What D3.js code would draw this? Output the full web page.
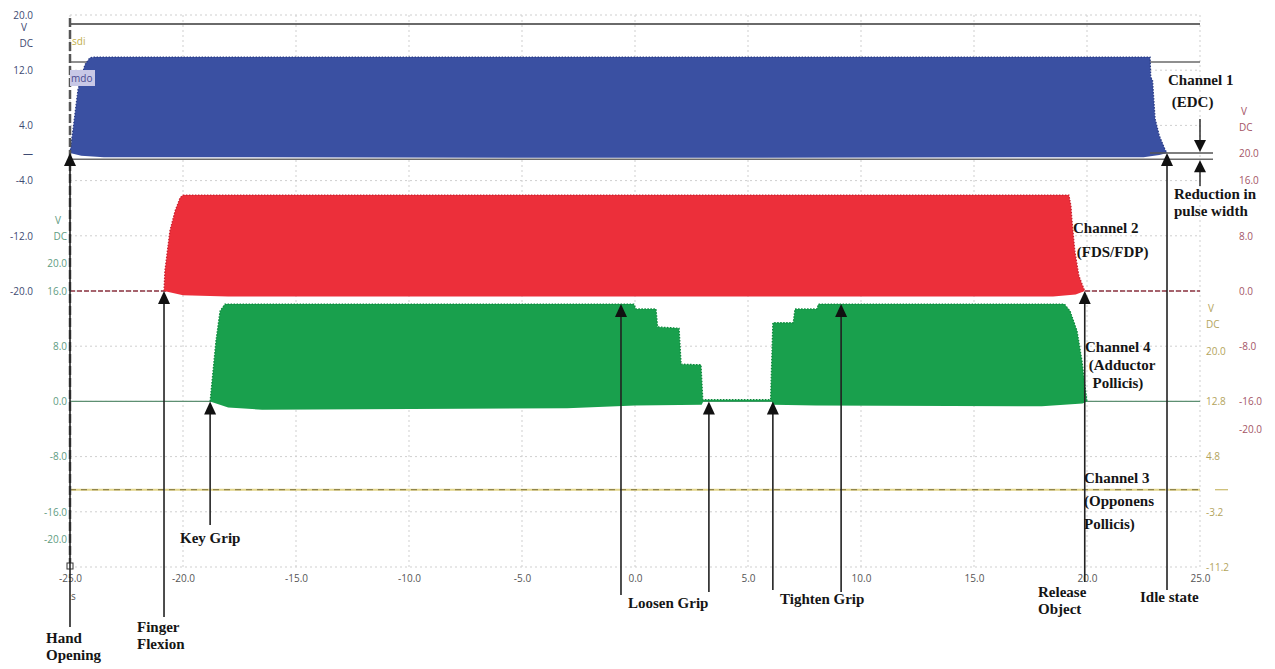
<!DOCTYPE html>
<meta charset="utf-8">
<title>EMG-triggered stimulation channels</title>
<style>
    body {
        margin: 0;
        background: #fff;
        width: 1275px;
        height: 669px;
        overflow: hidden;
    }

    svg {
        display: block;
    }

    .tick-lbl {
        font-family: "Open Sans", sans-serif;
        font-size: 10px;
    }

    .note {
        font-family: "Liberation Serif", "Times New Roman", serif;
        font-weight: bold;
        font-size: 15px;
        fill: #151515;
    }
</style>

<body>
    <svg width="1275" height="669"></svg>

    <script src="https://d3js.org/d3.v7.min.js"></script>
    <script>
        // ---- data ----
        const timeTicks = [-25, -20, -15, -10, -5, 0, 5, 10, 15, 20, 25];
        const ch1Ticks = [20, 12, 4, 0, -4, -12, -20];      // left, blue-grey
        const ch4Ticks = [20, 16, 8, 0, -8, -16, -20];      // left, green
        const ch3Ticks = [20, 12.8, 4.8, -3.2, -11.2];      // right, olive
        const ch2Ticks = [20, 16, 8, 0, -8, -16, -20];      // right, maroon

        // envelopes as [time s, volts]
        const ch1Top = [[-25, 0], [-24.87, 3.3], [-24.65, 9.1], [-24.34, 12.8], [-24.12, 13.8], [-23.9, 13.9],
            [22.79, 13.9], [22.82, 11.0], [22.9, 10.5], [23.01, 5.0], [23.2, 2.5], [23.45, 0.5], [23.54, 0]];
        const ch1Bottom = [[-25, 0], [-24.5, -0.4], [-23.5, -0.6], [0, -0.7], [22.5, -0.6], [23.2, -0.3], [23.54, 0]];

        const ch2Top = [[-20.84, 0], [-20.8, 2.9], [-20.58, 8.7], [-20.35, 11.6], [-20.13, 13.5], [-20.0, 13.9],
            [19.2, 13.9], [19.29, 12.3], [19.33, 10.4], [19.46, 5.8], [19.64, 2.2], [19.9, 0]];
        const ch2Bottom = [[-20.84, 0], [-20.0, -0.6], [-18, -0.8], [18.5, -0.8], [19.5, -0.5], [19.9, 0]];

        const ch4Top = [[-18.8, 0], [-18.67, 4.4], [-18.54, 8.8], [-18.36, 13.1], [-18.14, 14.1],
            [-0.05, 14.1], [0.04, 13.4], [0.93, 13.4], [1.0, 10.8], [1.95, 10.6], [2.04, 5.4], [2.92, 5.3],
            [3.0, 0.25], [6.0, 0.25], [6.1, 11.4], [7.0, 11.4], [7.08, 13.4], [8.05, 13.4], [8.12, 14.1],
            [19.0, 14.1], [19.25, 13.1], [19.56, 10.2], [19.78, 5.8], [19.91, 2.2], [20.0, 0]];
        const ch4Bottom = [[-18.8, 0], [-18.0, -0.9], [-16.5, -1.2], [-3, -1.0], [0, -0.6], [2.95, -0.5],
            [3.02, 0], [6.05, 0], [6.12, -0.5], [8, -0.6], [18, -0.7], [19.8, -0.3], [20.0, 0]];

        const ch3Level = [[-25, 0], [25, 0]];

        // cursor lines in channel-1 volts
        const ch1Cursors = [18.7, 13.2, -0.9];

        const events = [
            { name: ["Hand", "Opening"], t: -25, ch: "ch1", v: 0 },
            { name: ["Finger", "Flexion"], t: -20.84, ch: "ch2", v: 0 },
            { name: ["Key Grip"], t: -18.8, ch: "ch4", v: 0 },
            { name: ["Loosen Grip"], t: -0.62, ch: "ch4", v: 14.1 },
            { name: [], t: 3.27, ch: "ch4", v: 0 },
            { name: ["Tighten Grip"], t: 6.1, ch: "ch4", v: 0 },
            { name: [], t: 9.12, ch: "ch4", v: 14.1 },
            { name: ["Release", "Object"], t: 19.9, ch: "ch2", v: 0 },
            { name: ["Idle state"], t: 23.54, ch: "ch1", v: 0 }
        ];

        // ---- layout ----
        const svg = d3.select("svg");
        const plotTop = 15, plotBottom = 567, plotLeft = 70, plotRight = 1200;
        const div = (plotBottom - plotTop) / 10;

        const x = d3.scaleLinear().domain([-25, 25]).range([plotLeft, plotRight]);
        const y = {
            ch1: d3.scaleLinear().domain([-20, 20]).range([plotTop + 5 * div, plotTop]),
            ch2: d3.scaleLinear().domain([-20, 20]).range([plotTop + 7.5 * div, plotTop + 2.5 * div]),
            ch4: d3.scaleLinear().domain([-20, 20]).range([plotTop + 9.5 * div, plotTop + 4.5 * div]),
            ch3: d3.scaleLinear().domain([-11.2, 20]).range([plotBottom, plotBottom - 31.2 * div / 8])
        };

        // grid
        const grid = svg.append("g").attr("stroke", "#cfcfcf").attr("stroke-dasharray", "2,3");
        grid.selectAll("line.v").data(timeTicks).join("line").attr("class", "v")
            .attr("x1", d => x(d)).attr("x2", d => x(d))
            .attr("y1", plotTop).attr("y2", plotBottom);
        grid.selectAll("line.h").data(d3.range(11)).join("line").attr("class", "h")
            .attr("x1", plotLeft).attr("x2", plotRight)
            .attr("y1", d => plotTop + d * div).attr("y2", d => plotTop + d * div);

        // cursor lines of channel 1
        svg.append("g").attr("stroke", "#6a6a6a")
            .selectAll("line").data(ch1Cursors).join("line")
            .attr("x1", plotLeft).attr("x2", (d, i) => i === 2 ? 1213 : plotRight)
            .attr("y1", d => y.ch1(d)).attr("y2", d => y.ch1(d))
            .attr("stroke-width", (d, i) => i === 0 ? 2 : 1.5);

        // baselines
        svg.append("line").attr("x1", plotLeft).attr("x2", plotRight)
            .attr("y1", y.ch2(0)).attr("y2", y.ch2(0))
            .attr("stroke", "#8c3340").attr("stroke-width", 1.5).attr("stroke-dasharray", "5,2");
        svg.append("line").attr("x1", plotLeft).attr("x2", plotRight)
            .attr("y1", y.ch4(0)).attr("y2", y.ch4(0))
            .attr("stroke", "#5d8f72").attr("stroke-width", 1.2);

        const ch3Line = d3.line().x(d => x(d[0])).y(d => y.ch3(d[1]));
        svg.append("path").attr("d", ch3Line(ch3Level))
            .attr("fill", "none").attr("stroke", "#e2d58a").attr("stroke-width", 2);
        svg.append("path").attr("d", ch3Line(ch3Level))
            .attr("fill", "none").attr("stroke", "#7a6f3a").attr("stroke-width", 1)
            .attr("stroke-dasharray", "6,5");
        svg.append("line").attr("x1", 1215).attr("x2", 1228)
            .attr("y1", y.ch3(0)).attr("y2", y.ch3(0))
            .attr("stroke", "#c9b96a").attr("stroke-width", 1.2);

        // traces
        function drawTrace(topPts, botPts, scale, fill, edge) {
            const line = d3.line().x(d => x(d[0])).y(d => scale(d[1]));
            svg.append("path")
                .attr("d", line(topPts.concat(botPts.slice().reverse())) + "Z")
                .attr("fill", fill);
            svg.append("path")
                .attr("d", line(topPts))
                .attr("fill", "none")
                .attr("stroke", edge)
                .attr("stroke-width", 1.3)
                .attr("stroke-dasharray", "1.5,1.5");
        }
        drawTrace(ch1Top, ch1Bottom, y.ch1, "#3a50a2", "#2b3d86");
        drawTrace(ch2Top, ch2Bottom, y.ch2, "#ec2f3a", "#c92230");
        drawTrace(ch4Top, ch4Bottom, y.ch4, "#19a04d", "#0f8a3e");

        // left frame dashed line and origin marker
        svg.append("line").attr("x1", plotLeft).attr("x2", plotLeft).attr("y1", plotTop + 3).attr("y2", plotBottom)
            .attr("stroke", "#555").attr("stroke-width", 2.5).attr("stroke-dasharray", "9,3");
        svg.append("rect").attr("x", plotLeft - 3).attr("y", plotBottom - 4).attr("width", 6).attr("height", 6)
            .attr("fill", "#fff").attr("stroke", "#333");

        // scope labels
        svg.append("text").attr("x", 72).attr("y", 45).attr("class", "tick-lbl")
            .attr("fill", "#bfae4a").text("sdi");
        svg.append("rect").attr("x", 70).attr("y", 70).attr("width", 25).attr("height", 16)
            .attr("fill", "#c8c8e6");
        svg.append("text").attr("x", 71).attr("y", 82).attr("class", "tick-lbl")
            .attr("fill", "#4a4a90").text("mdo");

        // axes
        const fmt = d => d.toFixed(1);
        function axis(gen, scale, ticks, xPos, color, format) {
            const g = svg.append("g")
                .attr("transform", `translate(${xPos},0)`)
                .call(gen(scale).tickValues(ticks).tickSize(0).tickPadding(0).tickFormat(format || fmt));
            g.select(".domain").remove();
            g.attr("font-size", null).attr("font-family", null);
            g.selectAll("text").attr("class", "tick-lbl").attr("fill", color);
            return g;
        }
        axis(d3.axisLeft, y.ch1, ch1Ticks, 33, "#3e4a72", d => d === 0 ? "—" : fmt(d));
        axis(d3.axisLeft, y.ch4, ch4Ticks, 67, "#5f9c82");
        axis(d3.axisRight, y.ch3, ch3Ticks, 1206, "#b3a45c");
        axis(d3.axisRight, y.ch2, ch2Ticks, 1239, "#a45566");

        const units = [
            { x: 33, y: 31, anchor: "end", color: "#3e4a72" },
            { x: 67, y: 224, anchor: "end", color: "#5f9c82" },
            { x: 1206, y: 312, anchor: "start", color: "#b3a45c" },
            { x: 1239, y: 115, anchor: "start", color: "#a45566" }
        ];
        units.forEach(u => {
            const t = svg.append("text").attr("class", "tick-lbl").attr("fill", u.color)
                .attr("text-anchor", u.anchor).attr("x", u.x).attr("y", u.y);
            t.append("tspan").attr("x", u.x - (u.anchor === "end" ? 6 : -2)).text("V");
            t.append("tspan").attr("x", u.x).attr("dy", 16).text("DC");
        });

        const xg = svg.append("g").attr("transform", `translate(0,${plotBottom + 8})`)
            .call(d3.axisBottom(x).tickValues(timeTicks).tickSize(0).tickPadding(0).tickFormat(fmt));
        xg.select(".domain").remove();
        xg.attr("font-size", null).attr("font-family", null);
        xg.selectAll("text").attr("class", "tick-lbl").attr("fill", "#555").attr("dy", "0.7em");
        svg.append("text").attr("class", "tick-lbl").attr("fill", "#555")
            .attr("x", 71).attr("y", 600).text("s");

        // event arrows
        const eventLayout = [
            { end: 627, tx: 46, ty: 643 },
            { end: 617, tx: 137, ty: 632 },
            { end: 525, tx: 180, ty: 543 },
            { end: 595, tx: 628, ty: 608 },
            { end: 592 },
            { end: 590, tx: 780, ty: 604 },
            { end: 592 },
            { end: 582, tx: 1038, ty: 597 },
            { end: 590, tx: 1140, ty: 602 }
        ];
        const arrows = svg.append("g");
        events.forEach((e, i) => {
            const L = eventLayout[i];
            const px = x(e.t), py = y[e.ch](e.v);
            arrows.append("line").attr("x1", px).attr("x2", px).attr("y1", py + 10).attr("y2", L.end)
                .attr("stroke", "#222").attr("stroke-width", 1.6);
            arrows.append("path")
                .attr("d", `M${px},${py} L${px - 6},${py + 13} L${px + 6},${py + 13} Z`)
                .attr("fill", "#111");
            if (e.name.length) {
                const t = arrows.append("text").attr("class", "note").attr("x", L.tx).attr("y", L.ty);
                e.name.forEach((s, k) => t.append("tspan").attr("x", L.tx).attr("dy", k ? 17 : 0).text(s));
            }
        });

        // reduction in pulse width marker
        const rx = 1200;
        svg.append("line").attr("x1", 1150).attr("x2", 1213)
            .attr("y1", y.ch1(0)).attr("y2", y.ch1(0)).attr("stroke", "#555").attr("stroke-width", 1.5);
        svg.append("line").attr("x1", rx).attr("x2", rx).attr("y1", 119).attr("y2", 142)
            .attr("stroke", "#222").attr("stroke-width", 1.4);
        svg.append("path").attr("d", `M${rx},${y.ch1(0) - 1} L${rx - 6},${y.ch1(0) - 13} L${rx + 6},${y.ch1(0) - 13} Z`)
            .attr("fill", "#111");
        svg.append("line").attr("x1", rx).attr("x2", rx).attr("y1", 170).attr("y2", 186)
            .attr("stroke", "#222").attr("stroke-width", 1.4);
        svg.append("path").attr("d", `M${rx},${y.ch1(-0.9) + 1} L${rx - 6},${y.ch1(-0.9) + 13} L${rx + 6},${y.ch1(-0.9) + 13} Z`)
            .attr("fill", "#111");

        // channel notes
        const notes = [
            { lines: ["Channel 1", " (EDC)"], x: 1168, y: 85, gap: 22 },
            { lines: ["Reduction in", "pulse width"], x: 1174, y: 199, gap: 17 },
            { lines: ["Channel 2", " (FDS/FDP)"], x: 1073, y: 233, gap: 24 },
            { lines: ["Channel 4", " (Adductor", "  Pollicis)"], x: 1085, y: 352, gap: 18 },
            { lines: ["Channel 3", "(Opponens", "Pollicis)"], x: 1084, y: 483, gap: 23 }
        ];
        notes.forEach(n => {
            const t = svg.append("text").attr("class", "note").attr("x", n.x).attr("y", n.y)
                .style("white-space", "pre");
            n.lines.forEach((s, k) => t.append("tspan").attr("x", n.x).attr("dy", k ? n.gap : 0).text(s));
        });
    </script>
</body>

</html>
